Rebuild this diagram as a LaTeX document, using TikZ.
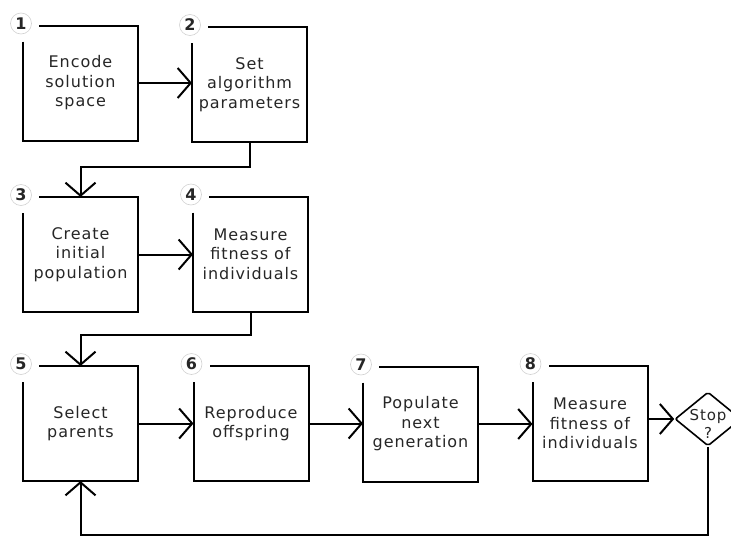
\documentclass[tikz,border=0pt]{standalone}
\usepackage{fontspec}
\newfontfamily\handfont[LetterSpace=6]{DejaVu Sans}
\usetikzlibrary{arrows.meta,shapes.geometric}
\tikzset{
	stepbox/.style={minimum width=113pt, minimum height=113pt, inner sep=0pt, align=center, text=black!85, font=\handfont\fontsize{16}{19.5}\selectfont},
	stepnum/.style={circle, draw=gray!35, line width=0.6pt, fill=white, minimum size=21pt, inner sep=0pt, text=black!85, font=\handfont\bfseries\fontsize{16}{16}\selectfont},
	decide/.style={diamond, draw, line width=1.6pt, rounded corners=2pt, minimum width=66pt, minimum height=54pt, inner sep=-9pt, align=center, text=black!85, font=\handfont\fontsize{15}{18}\selectfont},
	flow/.style={-{Straight Barb[length=13pt, width=30pt]}},
}
\begin{document}
\begin{tikzpicture}[x=1pt, y=-1pt, line width=2pt]
	\useasboundingbox (0,0) rectangle (731,536);
	
	% 1. steps of the algorithm
	\node[stepbox] (b1) at (80.5,83) {Encode\\solution\\space};
	\node[stepbox] (b2) at (249.5,84.5) {Set\\algorithm\\parameters};
	\node[stepbox] (b3) at (80.5,254.5) {Create\\initial\\population};
	\node[stepbox] (b4) at (250.5,254) {Measure\\fitness of\\individuals};
	\node[stepbox] (b5) at (80.5,423.5) {Select\\parents};
	\node[stepbox] (b6) at (251,423.5) {Reproduce\\offspring};
	\node[stepbox] (b7) at (420.5,424) {Populate\\next\\generation};
	\node[stepbox] (b8) at (590,423.5) {Measure\\fitness of\\individuals};
	\node[decide] (stop) at (708,419) {\rule{0pt}{20pt}Stop\\?};
	
	% 2. box outlines, open at the top left corner, and step numbers
	\foreach \i in {1,...,8} {
		\draw ([yshift=-16pt]b\i.north west) -- (b\i.south west) -- (b\i.south east)
			-- (b\i.north east) -- ([xshift=16pt]b\i.north west);
		\node[stepnum] (n\i) at ([shift={(-2pt,2pt)}]b\i.north west) {\i};
	}
	
	% 3. connectors
	\draw[flow] (b1.east) -- (b1.east -| b2.west);
	\draw[flow] (b2.south) -- ++(0,25) -| (b3.north);
	\draw[flow] (b3.east) -- (b3.east -| b4.west);
	\draw[flow] (b4.south) -- ++(0,23) -| (b5.north);
	\draw[flow] (b5.east) -- (b5.east -| b6.west);
	\draw[flow] (b6.east) -- (b6.east -| b7.west);
	\draw[flow] (b7.east) -- (b7.east -| b8.west);
	\draw[flow] (b8.east |- stop.west) -- (stop.west);
	
	% 4. loop back when not stopping
	\draw[flow] (stop.south) -- ++(0,88) -| (b5.south);
\end{tikzpicture}
\end{document}
